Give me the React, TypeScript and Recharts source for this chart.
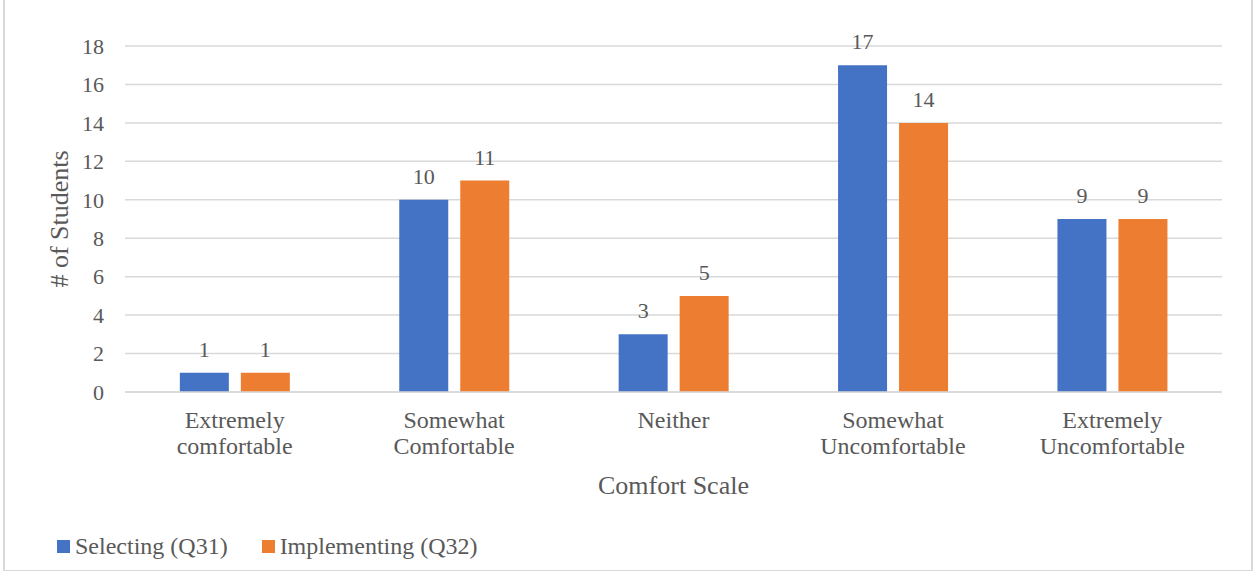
import { BarChart, Bar, XAxis, YAxis, CartesianGrid, LabelList } from "recharts";

const categorias = [
  "Extremely comfortable",
  "Somewhat Comfortable",
  "Neither",
  "Somewhat Uncomfortable",
  "Extremely Uncomfortable",
];
const seleccion = [1, 10, 3, 17, 9];
const implementacion = [1, 11, 5, 14, 9];
const series = [
  { key: "sel", nombre: "Selecting (Q31)", color: "#4472C4" },
  { key: "imp", nombre: "Implementing (Q32)", color: "#ED7D31" },
];
const ticksY = [0, 2, 4, 6, 8, 10, 12, 14, 16, 18];

const datos = categorias.map((c, i) => ({ cat: c, sel: seleccion[i], imp: implementacion[i] }));

const fuente = '"Liberation Serif", serif';
const gris = "#595959";

function TickX({ x, y, payload }: any) {
  const palabras = String(payload.value).split(" ");
  const lineas = palabras.length > 1 ? [palabras[0], palabras.slice(1).join(" ")] : palabras;
  return (
    <text x={x} y={y} textAnchor="middle" fill={gris} fontSize={24} style={{ fontFamily: fuente }}>
      {lineas.map((l, i) => (
        <tspan key={i} x={x} dy={i === 0 ? 28 : 26}>{l}</tspan>
      ))}
    </text>
  );
}

export default function App() {
  return (
    <div style={{ position: "absolute", left: 0, top: 0, width: 1253, height: 571, background: "#fff", fontFamily: fuente }}>
      <div style={{ position: "absolute", left: 3, top: -2, width: 1246, height: 570, border: "2px solid #d9d9d9" }} />
      <BarChart
        width={1253}
        height={571}
        data={datos}
        margin={{ top: 46, right: 31, bottom: 59, left: 45 }}
        barCategoryGap="25%"
        barGap={12}
        style={{ fontFamily: fuente }}
      >
        <CartesianGrid horizontal vertical={false} stroke="#d9d9d9" strokeWidth={1.5} />
        <XAxis
          dataKey="cat"
          height={120}
          tickLine={false}
          axisLine={{ stroke: "#d9d9d9", strokeWidth: 1.5 }}
          tick={<TickX />}
          interval={0}
          label={({ viewBox }: any) => (
            <text x={viewBox.x + viewBox.width / 2} y={viewBox.y + 102} textAnchor="middle" fill={gris} fontSize={26} style={{ fontFamily: fuente }}>
              Comfort Scale
            </text>
          )}
        />
        <YAxis
          width={80}
          domain={[0, 18]}
          ticks={ticksY}
          tickLine={false}
          axisLine={false}
          tickSize={0}
          tickMargin={21}
          tick={{ fill: gris, fontSize: 22, style: { fontFamily: fuente } }}
          label={({ viewBox }: any) => (
            <text
              x={viewBox.x + 14}
              y={viewBox.y + viewBox.height / 2}
              transform={`rotate(-90, ${viewBox.x + 14}, ${viewBox.y + viewBox.height / 2})`}
              textAnchor="middle"
              dominantBaseline="central"
              fill={gris}
              fontSize={26}
              style={{ fontFamily: fuente }}
            >
              # of Students
            </text>
          )}
        />
        {series.map((s) => (
          <Bar key={s.key} dataKey={s.key} name={s.nombre} fill={s.color} isAnimationActive={false}>
            <LabelList dataKey={s.key} position="top" offset={16} fill={gris} fontSize={22} style={{ fontFamily: fuente }} />
          </Bar>
        ))}
      </BarChart>
      <div style={{ position: "absolute", left: 57, top: 533, display: "flex", alignItems: "center", color: gris, fontSize: 24, fontFamily: fuente }}>
        {series.map((s, i) => (
          <div key={s.key} style={{ display: "flex", alignItems: "center", marginRight: i === 0 ? 34 : 0 }}>
            <span style={{ width: 13, height: 13, background: s.color, marginRight: 5, display: "inline-block" }} />
            <span>{s.nombre}</span>
          </div>
        ))}
      </div>
    </div>
  );
}
